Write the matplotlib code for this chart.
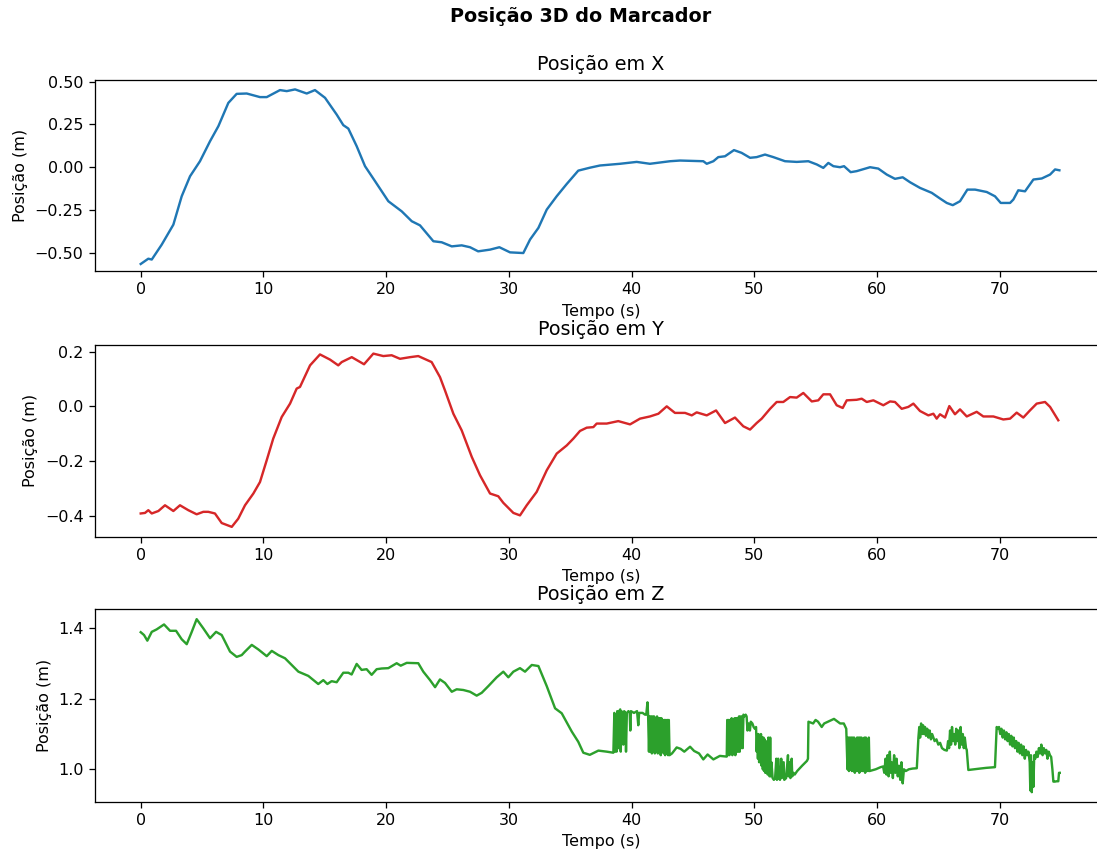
import matplotlib
matplotlib.use("Agg")
import matplotlib.pyplot as plt

# ---------------- data ----------------
x_time = [0.0, 0.62, 0.9, 1.71, 2.66, 3.34, 4.02, 4.83, 5.65, 6.33, 7.14, 7.82, 8.64, 9.72,
          10.27, 11.35, 11.9, 12.58, 13.53, 14.2, 15.02, 15.97, 16.51, 16.92, 17.6, 18.28,
          19.1, 20.18, 21.27, 22.09, 22.76, 23.85, 24.53, 25.35, 26.16, 26.84, 27.5, 28.47,
          29.23, 30.1, 31.18, 31.73, 32.41, 33.09, 33.9, 34.72, 35.66, 36.6, 37.43, 39.06,
          40.42, 41.5, 43.14, 43.95, 45.85, 46.13, 46.67, 47.07, 47.62, 48.35, 48.97, 49.66,
          50.2, 50.88, 51.56, 52.51, 53.46, 54.41, 55.1, 55.63, 56.04, 56.45, 56.99, 57.32,
          57.86, 58.35, 59.44, 60.11, 60.8, 61.47, 62.1, 62.7, 63.51, 64.47, 65.14, 65.69,
          66.18, 66.77, 67.37, 68.0, 68.95, 69.62, 70.09, 70.85, 71.12, 71.52, 72.07, 72.75,
          73.43, 74.11, 74.52, 74.87]
x_pos = [-0.566, -0.535, -0.540, -0.453, -0.336, -0.170, -0.053, 0.035, 0.152, 0.240, 0.376,
         0.429, 0.431, 0.410, 0.410, 0.451, 0.445, 0.455, 0.431, 0.451, 0.406, 0.308, 0.246,
         0.226, 0.123, 0.006, -0.082, -0.199, -0.258, -0.316, -0.340, -0.433, -0.439, -0.463,
         -0.457, -0.468, -0.492, -0.482, -0.468, -0.498, -0.502, -0.423, -0.355, -0.248,
         -0.170, -0.098, -0.020, -0.003, 0.010, 0.020, 0.031, 0.020, 0.035, 0.039, 0.035,
         0.020, 0.035, 0.059, 0.064, 0.100, 0.084, 0.055, 0.059, 0.074, 0.059, 0.035, 0.031,
         0.035, 0.016, -0.004, 0.025, 0.006, 0.000, 0.006, -0.029, -0.023, 0.000, -0.008,
         -0.043, -0.068, -0.059, -0.088, -0.121, -0.150, -0.183, -0.209, -0.222, -0.199,
         -0.131, -0.131, -0.145, -0.170, -0.209, -0.209, -0.189, -0.135, -0.141, -0.072,
         -0.066, -0.043, -0.013, -0.018]

y_time = [0.0, 0.35, 0.62, 0.9, 1.44, 1.98, 2.66, 3.2, 3.88, 4.56, 5.1, 5.51, 6.05, 6.6,
          7.42, 7.95, 8.5, 9.18, 9.72, 10.27, 10.8, 11.49, 12.17, 12.71, 12.98, 13.8, 14.61,
          15.43, 16.1, 16.38, 17.2, 18.2, 18.96, 19.77, 20.45, 21.13, 21.95, 22.62, 23.71,
          24.39, 24.8, 25.48, 26.16, 26.98, 27.65, 28.47, 29.14, 29.55, 30.37, 30.91, 31.46,
          32.27, 33.09, 33.9, 34.72, 35.26, 35.8, 36.35, 36.89, 37.16, 37.98, 38.92, 39.88,
          40.69, 41.5, 42.19, 42.87, 43.54, 44.36, 44.91, 45.31, 46.13, 46.89, 47.62, 48.43,
          49.11, 49.66, 50.2, 50.61, 51.29, 51.83, 52.37, 52.92, 53.46, 54.0, 54.69, 55.22,
          55.63, 56.18, 56.72, 57.21, 57.54, 58.35, 58.76, 59.17, 59.71, 60.52, 61.07, 61.47,
          62.02, 62.56, 62.97, 63.51, 64.19, 64.6, 64.87, 65.14, 65.55, 65.9, 66.36, 66.77,
          67.32, 68.13, 68.67, 69.49, 70.3, 70.85, 71.39, 71.93, 72.47, 73.02, 73.7, 74.11,
          74.78]
y_pos = [-0.392, -0.390, -0.380, -0.392, -0.383, -0.362, -0.383, -0.362, -0.380, -0.395,
         -0.386, -0.386, -0.392, -0.427, -0.441, -0.411, -0.362, -0.319, -0.277, -0.197,
         -0.118, -0.039, 0.010, 0.065, 0.071, 0.150, 0.190, 0.171, 0.150, 0.162, 0.180, 0.154,
         0.193, 0.184, 0.187, 0.174, 0.180, 0.184, 0.162, 0.107, 0.058, -0.027, -0.088,
         -0.185, -0.252, -0.319, -0.329, -0.353, -0.390, -0.399, -0.362, -0.313, -0.234,
         -0.173, -0.143, -0.118, -0.090, -0.078, -0.076, -0.063, -0.063, -0.054, -0.066,
         -0.045, -0.037, -0.027, 0.000, -0.024, -0.024, -0.033, -0.022, -0.033, -0.015,
         -0.061, -0.041, -0.073, -0.085, -0.061, -0.045, -0.009, 0.016, 0.016, 0.034, 0.032,
         0.049, 0.018, 0.022, 0.044, 0.044, 0.004, -0.006, 0.022, 0.024, 0.028, 0.016, 0.022,
         0.004, 0.018, 0.016, -0.009, -0.002, 0.010, -0.017, -0.033, -0.027, -0.045, -0.029,
         -0.041, 0.001, -0.029, -0.011, -0.037, -0.020, -0.037, -0.037, -0.048, -0.045,
         -0.023, -0.041, -0.015, 0.010, 0.016, -0.002, -0.051]

z_time = [0.0, 0.27, 0.54, 0.9, 1.3, 1.9, 2.39, 2.88, 3.34, 3.75, 4.16, 4.56, 5.1, 5.65,
          6.14, 6.6, 7.28, 7.82, 8.23, 8.5, 9.05, 9.59, 10.27, 10.68, 11.22, 11.76, 12.31,
          12.85, 13.66, 14.47, 14.88, 15.21, 15.56, 15.97, 16.51, 16.92, 17.19, 17.6, 18.0,
          18.41, 18.82, 19.23, 19.64, 20.18, 20.86, 21.19, 21.68, 22.62, 23.03, 23.58, 23.99,
          24.39, 24.8, 25.35, 25.75, 26.29, 26.84, 27.38, 27.79, 28.33, 29.01, 29.55, 29.96,
          30.37, 30.91, 31.32, 31.87, 32.41, 33.09, 33.77, 34.31, 35.13, 35.66, 36.07, 36.6,
          37.3, 37.98, 38.52,
          38.6, 38.65, 38.72, 38.78, 38.84, 38.9, 38.95, 39.0, 39.08, 39.12, 39.18, 39.28,
          39.33, 39.4, 39.5, 39.55, 39.62, 39.75, 39.85, 39.9, 39.95, 40.2, 40.45, 40.55,
          40.62, 40.9, 41.1, 41.2, 41.3, 41.35,
          41.42, 41.48, 41.54, 41.6, 41.66, 41.72, 41.78, 41.84, 41.9, 41.96, 42.02, 42.08,
          42.14, 42.2, 42.26, 42.32, 42.38, 42.44, 42.5, 42.56, 42.62, 42.68, 42.74, 42.8,
          42.86, 42.92, 42.98, 43.04, 43.1,
          43.3, 43.68, 44.0, 44.3, 44.77, 45.1, 45.5, 45.85, 46.2, 46.67, 47.2, 47.76,
          47.8, 47.86, 47.92, 47.98, 48.04, 48.1, 48.16, 48.22, 48.28, 48.34, 48.4, 48.46,
          48.52, 48.58, 48.64, 48.7, 48.76, 48.82, 48.88, 48.94, 49.0, 49.06, 49.12, 49.2,
          49.3, 49.38,
          49.45, 49.55, 49.65, 49.72, 49.85, 49.95, 50.05, 50.15,
          50.2, 50.25, 50.3, 50.35, 50.4, 50.45, 50.5, 50.55, 50.6, 50.65, 50.7, 50.75, 50.8,
          50.85, 50.9, 50.95, 51.0, 51.05, 51.1, 51.15, 51.25, 51.3, 51.35, 51.4, 51.5, 51.6,
          51.7, 51.8, 51.85, 51.95, 52.0, 52.1, 52.2, 52.25, 52.4, 52.45, 52.6, 52.75, 52.8,
          52.9, 52.95, 53.05, 53.1, 53.2, 53.3,
          53.5, 53.9, 54.3, 54.38, 54.42,
          54.8, 55.0, 55.2, 55.5, 55.7, 56.0, 56.3, 56.5, 56.8, 57.0, 57.3, 57.5,
          57.6, 57.66, 57.72, 57.78, 57.84, 57.9, 57.96, 58.02, 58.08, 58.14, 58.2, 58.26,
          58.32, 58.38, 58.44, 58.5, 58.56, 58.62, 58.68, 58.74, 58.8, 58.86, 58.92, 58.98,
          59.04, 59.1, 59.16, 59.22, 59.28, 59.34, 59.4,
          59.5, 59.9, 60.3, 60.5,
          60.6, 60.7, 60.78, 60.86, 60.95, 61.05, 61.12, 61.2, 61.3, 61.4, 61.5, 61.6, 61.7,
          61.8, 61.9, 62.0, 62.1, 62.2, 62.35,
          62.6, 62.9, 63.25,
          63.38, 63.45, 63.52, 63.6, 63.68, 63.76, 63.84, 63.92, 64.0, 64.1, 64.2, 64.3,
          64.4, 64.5,
          64.7, 64.85, 65.0, 65.15, 65.3, 65.5, 65.7,
          65.8, 65.88, 65.96, 66.04, 66.12, 66.2, 66.3, 66.38, 66.46, 66.54, 66.64, 66.72,
          66.82, 66.9, 67.0, 67.08, 67.16, 67.26, 67.32,
          67.45, 67.9, 68.4, 68.9, 69.3, 69.62,
          69.76, 69.85, 69.95, 70.05, 70.15, 70.25, 70.35, 70.45, 70.55, 70.65, 70.75, 70.85,
          70.95, 71.05, 71.15, 71.25, 71.35, 71.45, 71.55, 71.65, 71.75, 71.85, 71.95, 72.05,
          72.15, 72.25, 72.35, 72.45, 72.5, 72.55, 72.62, 72.68, 72.75, 72.82, 72.9, 73.0,
          73.1, 73.2, 73.3, 73.4, 73.5, 73.6, 73.7, 73.8, 73.9, 74.0, 74.1, 74.2, 74.3,
          74.38, 74.5, 74.65, 74.78, 74.84, 74.9]
z_pos = [1.389, 1.381, 1.365, 1.390, 1.397, 1.411, 1.393, 1.393, 1.369, 1.355, 1.390, 1.426,
         1.400, 1.372, 1.390, 1.381, 1.334, 1.319, 1.324, 1.334, 1.353, 1.340, 1.321, 1.336,
         1.324, 1.315, 1.296, 1.277, 1.265, 1.242, 1.253, 1.242, 1.250, 1.247, 1.274, 1.274,
         1.269, 1.299, 1.282, 1.284, 1.268, 1.284, 1.286, 1.287, 1.301, 1.294, 1.302, 1.301,
         1.277, 1.253, 1.233, 1.255, 1.245, 1.220, 1.227, 1.225, 1.220, 1.209, 1.217, 1.236,
         1.261, 1.277, 1.261, 1.277, 1.287, 1.277, 1.296, 1.293, 1.236, 1.173, 1.159, 1.107,
         1.078, 1.047, 1.041, 1.053, 1.050, 1.047,
         1.160, 1.050, 1.155, 1.050, 1.165, 1.160, 1.060, 1.165, 1.170, 1.050, 1.165, 1.160,
         1.070, 1.165, 1.160, 1.050, 1.160, 1.165, 1.160, 1.110, 1.165, 1.160, 1.165, 1.125,
         1.160, 1.160, 1.155, 1.155, 1.190, 1.155,
         1.050, 1.150, 1.050, 1.150, 1.045, 1.150, 1.050, 1.150, 1.045, 1.145, 1.050, 1.150,
         1.045, 1.145, 1.050, 1.145, 1.040, 1.145, 1.050, 1.140, 1.045, 1.140, 1.040, 1.140,
         1.045, 1.140, 1.040, 1.140, 1.040,
         1.045, 1.062, 1.058, 1.050, 1.064, 1.052, 1.045, 1.028, 1.042, 1.028, 1.038, 1.036,
         1.140, 1.040, 1.140, 1.040, 1.140, 1.045, 1.145, 1.040, 1.140, 1.045, 1.145, 1.040,
         1.145, 1.050, 1.145, 1.050, 1.150, 1.050, 1.150, 1.060, 1.150, 1.060, 1.155, 1.150,
         1.155, 1.150,
         1.110, 1.130, 1.110, 1.135, 1.130, 1.120, 1.115, 1.120,
         1.050, 1.100, 1.030, 1.100, 1.020, 1.095, 1.020, 1.100, 1.010, 1.090, 1.000, 1.090,
         0.995, 1.085, 0.990, 1.080, 0.990, 1.050, 0.985, 1.090, 0.980, 1.090, 0.980, 1.020,
         0.975, 0.970,
         0.975, 1.030, 0.970, 1.030, 0.975, 0.970, 1.030, 0.975, 1.020, 0.970, 0.975, 1.040,
         0.980, 1.020, 0.975, 1.030, 0.980, 0.990, 0.985,
         0.995, 1.010, 1.024, 1.030, 1.135,
         1.130, 1.140, 1.135, 1.120, 1.130, 1.135, 1.140, 1.143, 1.135, 1.130, 1.130, 1.115,
         1.000, 1.090, 0.995, 1.090, 1.000, 1.090, 0.995, 1.090, 0.995, 1.090, 0.990, 1.085,
         0.995, 1.090, 0.995, 1.090, 0.990, 1.090, 0.995, 1.090, 0.995, 1.085, 0.995, 1.090,
         0.990, 1.090, 0.995, 1.085, 0.995, 1.090, 0.995,
         0.996, 1.000, 1.006, 1.008,
         0.990, 1.030, 0.985, 1.040, 0.980, 1.050, 0.990, 1.020, 0.975, 1.040, 0.990, 1.030,
         0.980, 1.010, 0.970, 1.020, 0.960, 1.000, 0.995,
         1.000, 1.002, 1.003,
         1.090, 1.120, 1.090, 1.130, 1.100, 1.125, 1.100, 1.120, 1.095, 1.115, 1.090, 1.110,
         1.085, 1.100,
         1.080, 1.085, 1.070, 1.075, 1.060, 1.055, 1.053,
         1.080, 1.060, 1.110, 1.070, 1.120, 1.080, 1.100, 1.070, 1.115, 1.080, 1.110, 1.060,
         1.120, 1.070, 1.100, 1.060, 1.090, 1.060, 1.055,
         0.998, 1.000, 1.002, 1.004, 1.005, 1.006,
         1.120, 1.115, 1.120, 1.100, 1.115, 1.090, 1.110, 1.085, 1.105, 1.080, 1.100, 1.070,
         1.095, 1.065, 1.090, 1.060, 1.080, 1.050, 1.075, 1.045, 1.070, 1.040, 1.065, 1.030,
         1.055, 1.040, 1.050, 1.020, 0.940, 1.040, 0.935, 1.020, 0.950, 1.040, 1.030, 1.050,
         1.035, 1.060, 1.045, 1.070, 1.040, 1.060, 1.045, 1.055, 1.030, 1.050, 1.040, 1.035,
         1.000, 0.965, 0.965, 0.966, 0.966, 0.990, 0.990]

xticks = [0, 10, 20, 30, 40, 50, 60, 70]

# ---------------- figure ----------------
DPI = 115
W, H = 1097.0, 852.0
fig = plt.figure(figsize=(W / DPI, H / DPI), dpi=DPI)
left_px, right_px = 94.7, 1107.0
rows = [(80.0, 271.0), (345.0, 536.7), (609.3, 801.7)]
axes = []
for top, bot in rows:
    ax = fig.add_axes([left_px / W, (H - bot) / H, (right_px - left_px) / W, (bot - top) / H])
    axes.append(ax)

series = [
    (x_time, x_pos, "#1f77b4", "Posição em X", (-0.607, 0.51), [-0.50, -0.25, 0.00, 0.25, 0.50], "{:.2f}"),
    (y_time, y_pos, "#d62728", "Posição em Y", (-0.477, 0.2245), [-0.4, -0.2, 0.0, 0.2], "{:.1f}"),
    (z_time, z_pos, "#2ca02c", "Posição em Z", (0.908, 1.454), [1.0, 1.2, 1.4], "{:.1f}"),
]

for ax, (t, v, c, title, ylim, yt, fmt) in zip(axes, series):
    ax.plot(t, v, color=c, linewidth=1.5)
    ax.set_xlim(-3.75, 78.75)
    ax.set_ylim(*ylim)
    ax.set_xticks(xticks)
    ax.set_yticks(yt)
    ax.set_yticklabels([fmt.format(val).replace("-", "\u2212") for val in yt])
    ax.set_title(title, fontsize=12)
    ax.set_xlabel("Tempo (s)", fontsize=10)
    ax.set_ylabel("Posição (m)", fontsize=10)
    ax.tick_params(labelsize=10)

fig.text(581 / W, 1 - 17 / H, "Posição 3D do Marcador", ha="center", va="center",
         fontsize=12, fontweight="bold")

fig.savefig("out.png", dpi=DPI)
